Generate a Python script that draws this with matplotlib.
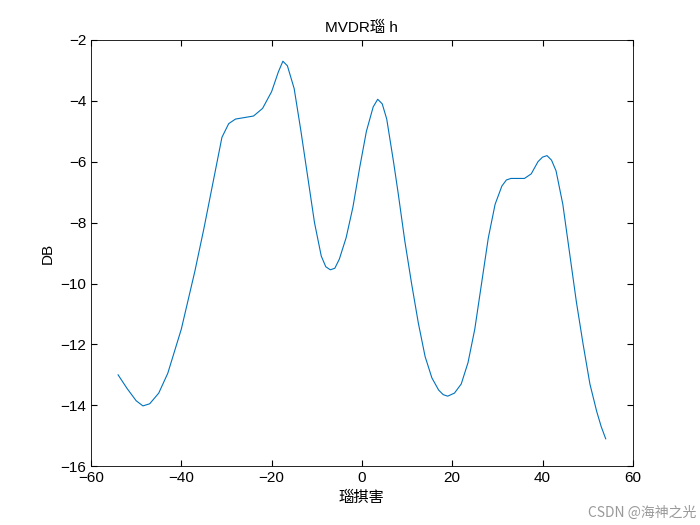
import matplotlib
matplotlib.use('Agg')
import matplotlib.pyplot as plt

plt.rcParams['font.family'] = ['Liberation Sans', 'Noto Sans CJK SC', 'DejaVu Sans']

# 角度 (deg) and DB values
angle = [-54, -52, -50, -48.5, -47, -45, -43, -40, -37, -35, -33, -31, -29.5, -28, -26, -24,
         -22, -20, -18.5, -17.5, -16.5, -15, -13.5, -12, -10.5, -9, -8, -7, -6, -5, -3.5, -2,
         -0.5, 1, 2.5, 3.5, 4.5, 5.5, 7, 8, 9.5, 11, 12.5, 14, 15.5, 17, 18, 19, 20.5, 22, 23.5,
         25, 26.5, 28, 29.5, 31, 32, 33, 34.5, 36, 37.5, 39, 40, 41, 42, 43, 44.5, 46, 47.5, 49,
         50.5, 52, 53, 54]
db = [-13.0, -13.45, -13.85, -14.02, -13.95, -13.6, -12.95, -11.5, -9.6, -8.2, -6.7, -5.2, -4.75,
      -4.6, -4.55, -4.5, -4.25, -3.7, -3.05, -2.7, -2.85, -3.6, -5.0, -6.5, -8.0, -9.1, -9.45,
      -9.55, -9.5, -9.2, -8.5, -7.5, -6.2, -5.0, -4.2, -3.95, -4.1, -4.6, -6.0, -7.0, -8.6,
      -10.0, -11.3, -12.4, -13.1, -13.5, -13.65, -13.7, -13.6, -13.3, -12.6, -11.5, -10.0,
      -8.5, -7.4, -6.8, -6.6, -6.55, -6.55, -6.55, -6.4, -6.0, -5.85, -5.8, -5.95, -6.3, -7.4,
      -9.0, -10.6, -12.0, -13.3, -14.2, -14.7, -15.1]

fig = plt.figure(figsize=(7, 5.25), dpi=100)
ax = fig.add_axes([0.13, 0.112, 0.774, 0.812])
ax.plot(angle, db, color='#0072BD', linewidth=0.8)
ax.set_xlim(-60, 60)
ax.set_ylim(-16, -2)
ax.set_xticks(range(-60, 61, 20))
ax.set_yticks(range(-16, -1, 2))
ax.tick_params(direction='in', labelsize=11, length=4, top=True, right=True, labeltop=False, labelright=False)
for s in ax.spines.values():
    s.set_linewidth(0.6)
ax.set_title('MVDR瑙 h', fontsize=11)
ax.set_xlabel('瑙掑害', fontsize=11)
ax.set_ylabel('DB', fontsize=11)
fig.text(0.995, 0.01, 'CSDN @海神之光', ha='right', va='bottom', fontsize=10, color='#999999',
         family=['Noto Sans CJK SC', 'DejaVu Sans'])

fig.savefig('out.png')
